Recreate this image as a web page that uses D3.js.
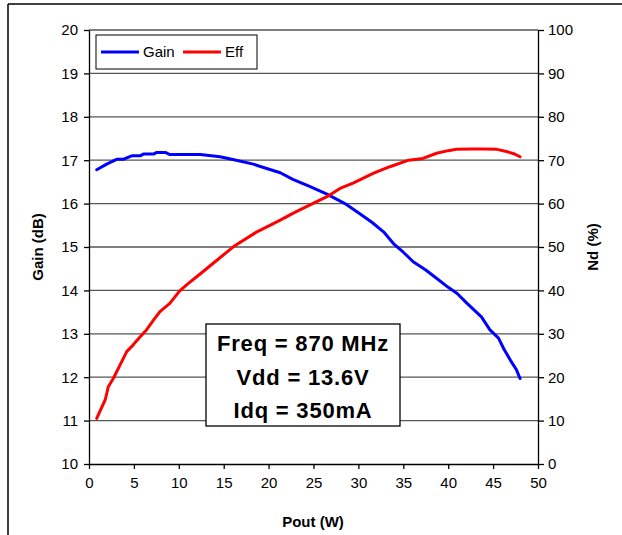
<!DOCTYPE html>
<html lang="en">
<head>
    <meta charset="UTF-8">
    <title>Gain and Eff vs Pout</title>
    <style>
      body { margin: 0; background: #fff; }
      text { font-family: "Liberation Sans", Arial, sans-serif; }
    </style>
</head>
<body>
  <svg id="svg" width="622" height="535"></svg>

  <script src="https://d3js.org/d3.v7.min.js"></script>
  <script>
    // values
    const gainPout = [0.86, 1.2, 1.97, 3.07, 3.8, 4.75, 5.7, 6.05, 7.2, 7.5, 8.5, 9.0, 10.5, 12.4, 14.6, 16.4, 18.3, 19.0, 21.3, 22.7, 24.5, 26.5, 28.5, 30.2, 31.5, 32.8, 33.9, 35.0, 36.1, 37.5, 38.7, 40.0, 41.0, 42.1, 43.7, 44.65, 45.6, 46.2, 46.9, 47.6, 48.0]
    const gain     = [16.78, 16.82, 16.91, 17.02, 17.02, 17.1, 17.1, 17.14, 17.14, 17.18, 17.18, 17.13, 17.13, 17.13, 17.08, 17.0, 16.91, 16.86, 16.71, 16.56, 16.4, 16.22, 16.0, 15.76, 15.57, 15.35, 15.08, 14.88, 14.66, 14.47, 14.28, 14.07, 13.93, 13.7, 13.39, 13.09, 12.9, 12.65, 12.4, 12.17, 11.97]

    const effPout = [0.86, 1.2, 1.8, 2.15, 2.7, 3.45, 4.2, 4.9, 5.7, 6.4, 7.2, 7.9, 9.0, 10.1, 11.0, 12.2, 13.8, 16.1, 18.7, 21.3, 22.75, 24.5, 26.5, 27.95, 29.4, 31.7, 33.5, 35.6, 37.2, 38.7, 40.0, 40.9, 42.5, 44.0, 45.4, 46.5, 47.3, 48.0]
    const eff     = [10.5, 12.05, 14.75, 17.8, 19.7, 22.8, 25.9, 27.4, 29.3, 30.9, 33.2, 35.1, 37.0, 39.9, 41.5, 43.5, 46.2, 50.1, 53.5, 56.2, 57.8, 59.6, 61.6, 63.5, 64.7, 67.0, 68.5, 70.0, 70.4, 71.6, 72.2, 72.5, 72.6, 72.6, 72.5, 72.0, 71.5, 70.8]

    const xTicks = d3.range(0, 51, 5)
    const gainTicks = d3.range(10, 21, 1)
    const effTicks = d3.range(0, 101, 10)
    const notes = ['Freq = 870 MHz', 'Vdd = 13.6V', 'Idq = 350mA']

    const svg = d3.select('#svg')

    // outer frame (top and left edges visible)
    svg.append('line').attr('x1', 8).attr('y1', 4).attr('x2', 622).attr('y2', 4)
      .attr('stroke', '#000').attr('stroke-width', 1.5)
    svg.append('line').attr('x1', 8).attr('y1', 4).attr('x2', 8).attr('y2', 535)
      .attr('stroke', '#000').attr('stroke-width', 1.5)

    const m = { left: 89, right: 538, top: 30, bottom: 464 }

    const xScale = d3.scaleLinear().domain([0, 50]).range([m.left, m.right])
    const yGain = d3.scaleLinear().domain([10, 20]).range([m.bottom, m.top])
    const yEff = d3.scaleLinear().domain([0, 100]).range([m.bottom, m.top])

    // horizontal gridlines
    svg.append('g')
      .selectAll('line')
      .data(gainTicks.slice(1))
      .enter()
      .append('line')
      .attr('x1', m.left).attr('x2', m.right)
      .attr('y1', d => yGain(d)).attr('y2', d => yGain(d))
      .attr('stroke', '#555')
      .attr('stroke-width', 1.3)

    // axes
    const axisStyle = g => {
      g.select('.domain').attr('stroke', '#000').attr('stroke-width', 1.3)
      g.selectAll('.tick line').attr('stroke', '#000').attr('stroke-width', 1.3)
      g.selectAll('.tick text').attr('fill', '#000')
        .style('font-size', '15px').style('font-family', '"Liberation Sans", Arial, sans-serif')
    }

    svg.append('g')
      .attr('transform', `translate(0,${m.bottom})`)
      .call(d3.axisBottom(xScale).tickValues(xTicks).tickSize(5).tickSizeOuter(0).tickPadding(8))
      .call(axisStyle)

    svg.append('g')
      .attr('transform', `translate(${m.left},0)`)
      .call(d3.axisLeft(yGain).tickValues(gainTicks).tickSize(5).tickSizeOuter(0).tickPadding(6))
      .call(axisStyle)

    svg.append('g')
      .attr('transform', `translate(${m.right},0)`)
      .call(d3.axisRight(yEff).tickValues(effTicks).tickSize(6).tickSizeOuter(0).tickPadding(4))
      .call(axisStyle)

    // lines
    const gainLine = d3.line()
      .x((d, i) => xScale(gainPout[i]))
      .y(d => yGain(d))
    const effLine = d3.line()
      .x((d, i) => xScale(effPout[i]))
      .y(d => yEff(d))

    svg.append('path').datum(gain)
      .attr('d', gainLine)
      .attr('fill', 'none').attr('stroke', '#0000ff').attr('stroke-width', 3)
      .attr('stroke-linejoin', 'round').attr('stroke-linecap', 'round')

    svg.append('path').datum(eff)
      .attr('d', effLine)
      .attr('fill', 'none').attr('stroke', '#ff0000').attr('stroke-width', 3)
      .attr('stroke-linejoin', 'round').attr('stroke-linecap', 'round')

    // axis titles
    svg.append('text')
      .attr('transform', 'translate(43,247) rotate(-90)')
      .attr('text-anchor', 'middle')
      .style('font-size', '15px').style('font-weight', 'bold')
      .text('Gain (dB)')

    svg.append('text')
      .attr('transform', 'translate(598,247) rotate(-90)')
      .attr('text-anchor', 'middle')
      .style('font-size', '15px').style('font-weight', 'bold')
      .text('Nd (%)')

    svg.append('text')
      .attr('x', 313).attr('y', 527)
      .attr('text-anchor', 'middle')
      .style('font-size', '15px').style('font-weight', 'bold')
      .text('Pout (W)')

    // legend
    const legend = svg.append('g')
    legend.append('rect')
      .attr('x', 96).attr('y', 35).attr('width', 161).attr('height', 34)
      .attr('fill', '#fff').attr('stroke', '#000').attr('stroke-width', 1)
    const legendItems = [['Gain', '#0000ff', 101], ['Eff', '#ff0000', 183]]
    legendItems.forEach(([name, color, x0]) => {
      legend.append('line')
        .attr('x1', x0).attr('x2', x0 + 38).attr('y1', 52).attr('y2', 52)
        .attr('stroke', color).attr('stroke-width', 3)
      legend.append('text')
        .attr('x', x0 + 42).attr('y', 57)
        .style('font-size', '15px')
        .text(name)
    })

    // annotation box
    svg.append('rect')
      .attr('x', 206).attr('y', 324).attr('width', 194).attr('height', 102)
      .attr('fill', '#fff').attr('stroke', '#000').attr('stroke-width', 1.3)
    svg.append('g')
      .selectAll('text')
      .data(notes)
      .enter()
      .append('text')
      .attr('x', 303)
      .attr('y', (d, i) => 351 + i * 33.5)
      .attr('text-anchor', 'middle')
      .style('font-size', '22px').style('font-weight', 'bold')
      .style('letter-spacing', '0.8px')
      .text(d => d)
  </script>
</body>
</html>
